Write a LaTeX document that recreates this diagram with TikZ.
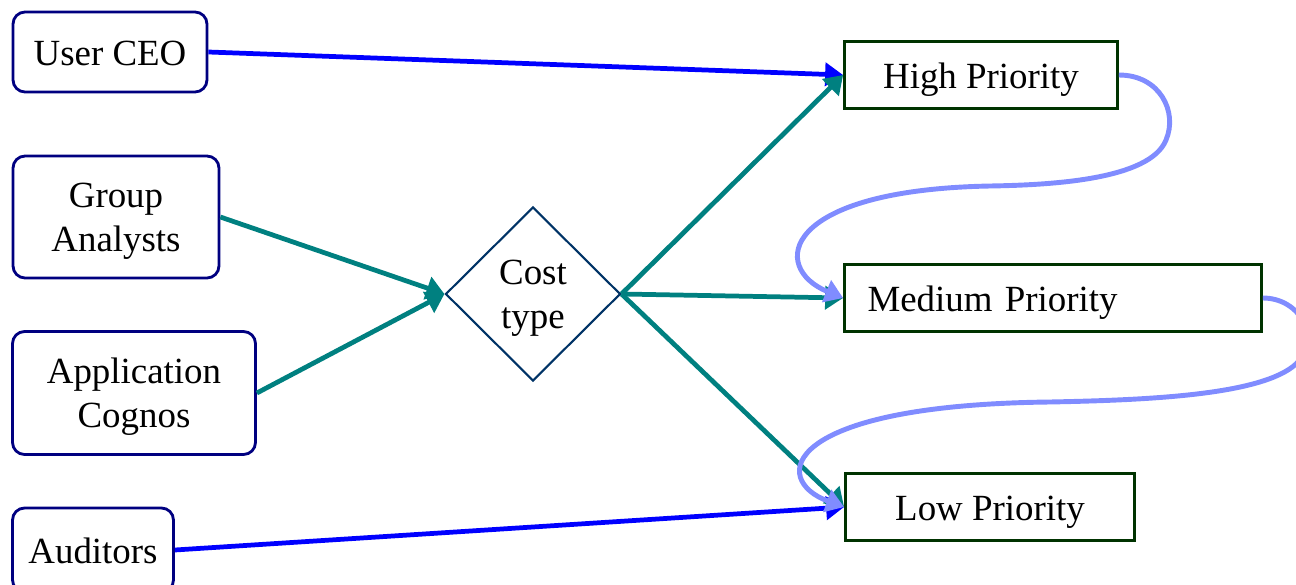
\documentclass[tikz,border=0pt]{standalone}
\usepackage{fontspec}
\setmainfont{Liberation Serif}
\usetikzlibrary{shapes.geometric,arrows.meta}
\definecolor{actorline}{RGB}{0,0,128}
\definecolor{prioline}{RGB}{0,51,0}
\definecolor{diamline}{RGB}{0,51,102}
\definecolor{teal}{RGB}{0,128,128}
\definecolor{pale}{RGB}{128,140,255}
\begin{document}
\begin{tikzpicture}[x=0.02cm,y=-0.02cm,font=\fontsize{21}{25}\selectfont,
  oneline/.style={text height=0.7cm,text depth=0.16cm},
  twoline/.style={text depth=-0.04cm},
  actor/.style={draw=actorline,line width=1.6pt,rounded corners=0.24cm,align=center,inner sep=0pt},
  prio/.style={draw=prioline,line width=1.6pt,inner sep=0pt,minimum height=1.34cm,oneline},
  tip/.style={-{Triangle[length=0.36cm,width=0.46cm]},line width=2.7pt}]
\useasboundingbox (0,0) rectangle (1296,585);

\node[actor,oneline,minimum width=3.88cm,minimum height=1.6cm] (ceo) at (110,52) {User CEO};
\node[actor,twoline,minimum width=4.12cm,minimum height=2.44cm] (group) at (116,217) {Group\\Analysts};
\node[actor,twoline,minimum width=4.86cm,minimum height=2.46cm] (cognos) at (134,393) {Application\\Cognos};
\node[actor,oneline,minimum width=3.22cm,minimum height=1.68cm] (audit) at (93,550) {Auditors};

\node[diamond,aspect=1,draw=diamline,line width=1.2pt,align=center,inner sep=0pt,twoline,
  minimum width=3.5cm,minimum height=3.48cm] (cost) at (533,294) {Cost\\type};

\node[prio,minimum width=5.46cm] (high) at (981,75) {High Priority};
\node[prio,text width=7.42cm,inner xsep=0.46cm,align=left] (med) at (1053,298) {Medium Priority};
\node[prio,minimum width=5.78cm] (low) at (990,507) {Low Priority};

% users to priorities
\draw[tip,blue] (ceo.east) -- (high.west);
\draw[tip,blue] (audit.east) -- (low.west);

% through the cost type
\draw[tip,teal] (group.east) -- (cost.west);
\draw[tip,teal] (cognos.east) -- (cost.west);
\foreach \p in {high,med,low}
  \draw[tip,teal] (cost.east) -- (\p.west);

% escalation
\draw[tip,pale,line width=2.8pt] (high.east) .. controls (1160,75) and (1178,112) .. (1166,140)
  .. controls (1150,180) and (1050,185) .. (990,186)
  .. controls (780,190) and (770,268) .. (med.west);
\draw[tip,pale,line width=2.8pt] (med.east) .. controls (1300,298) and (1322,338) .. (1296,364)
  .. controls (1262,395) and (1150,400) .. (1050,402)
  .. controls (780,405) and (770,480) .. (low.west);
\end{tikzpicture}
\end{document}
